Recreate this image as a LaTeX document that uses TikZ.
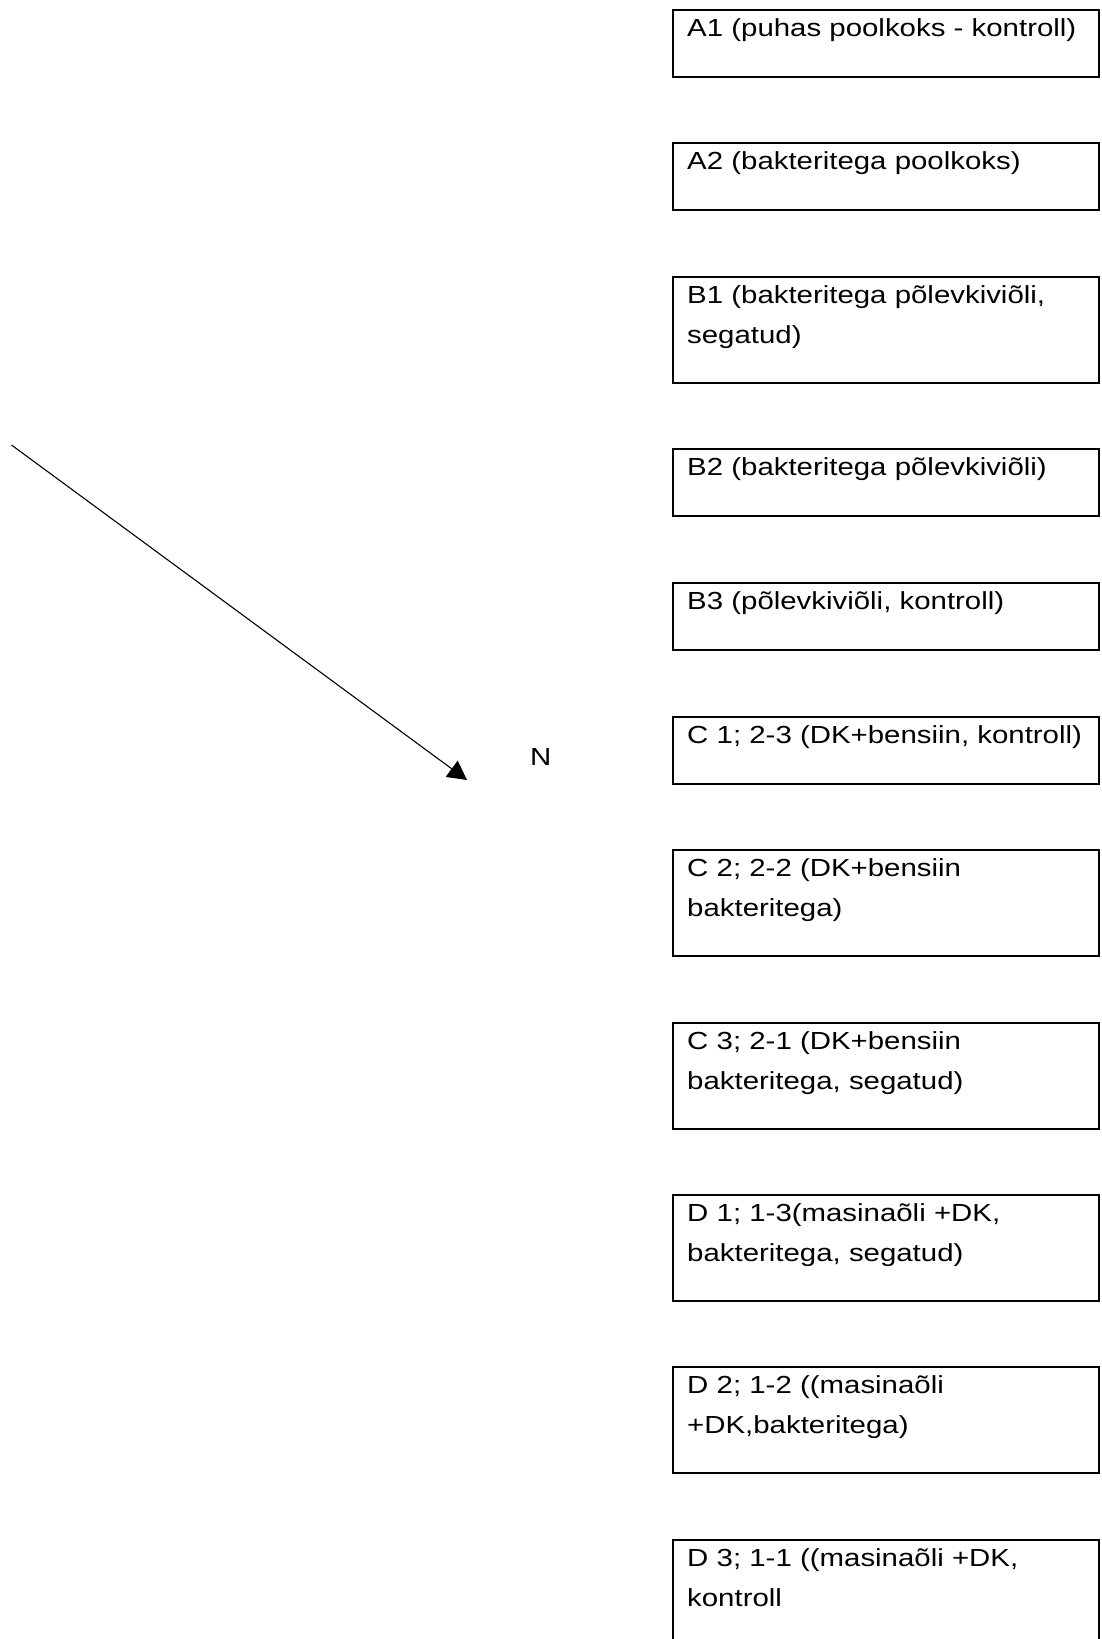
\documentclass[tikz,border=0pt]{standalone}
\usepackage{fontspec}
\setmainfont[FakeStretch=1.19]{Liberation Sans}
\usetikzlibrary{arrows.meta}
\tikzset{
  box/.style={draw, line width=2pt, rectangle, anchor=north west, inner sep=0pt,
              minimum width=426pt},
  onebox/.style={box, minimum height=67pt},
  twobox/.style={box, minimum height=106pt},
  txt/.style={anchor=base west, inner sep=0pt, text width=420pt, align=left,
              font=\fontsize{24.7}{40}\selectfont},
  arr/.style={line width=1.1pt, -{Triangle[length=19pt,width=20pt]}}
}
\begin{document}
\begin{tikzpicture}[x=1pt,y=-1pt]
\useasboundingbox (0,0) rectangle (1101,1639);
\clip (0,0) rectangle (1101,1639);
\fill[white] (0,0) rectangle (1101,1639);

\node[onebox] (A1) at (672,9) {};
\node[onebox] (A2) at (672,142) {};
\node[twobox] (B1) at (672,276) {};
\node[onebox] (B2) at (672,448) {};
\node[onebox] (B3) at (672,582) {};
\node[onebox] (C1) at (672,716) {};
\node[twobox] (C2) at (672,849) {};
\node[twobox] (C3) at (672,1022) {};
\node[twobox] (D1) at (672,1194) {};
\node[twobox] (D2) at (672,1366) {};
\node[twobox] (D3) at (672,1539) {};

\node[txt] (tA1) at ([shift={(15,27.5)}]A1.north west) {A1 (puhas poolkoks - kontroll)};
\node[txt] (tA2) at ([shift={(15,27.5)}]A2.north west) {A2 (bakteritega poolkoks)};
\node[txt] (tB1) at ([shift={(15,27.5)}]B1.north west) {B1 (bakteritega põlevkiviõli,\\segatud)};
\node[txt] (tB2) at ([shift={(15,27.5)}]B2.north west) {B2 (bakteritega põlevkiviõli)};
\node[txt] (tB3) at ([shift={(15,27.5)}]B3.north west) {B3 (põlevkiviõli, kontroll)};
\node[txt] (tC1) at ([shift={(15,27.5)}]C1.north west) {C 1; 2-3 (DK+bensiin, kontroll)};
\node[txt] (tC2) at ([shift={(15,27.5)}]C2.north west) {C 2; 2-2 (DK+bensiin\\bakteritega)};
\node[txt] (tC3) at ([shift={(15,27.5)}]C3.north west) {C 3; 2-1 (DK+bensiin\\bakteritega, segatud)};
\node[txt] (tD1) at ([shift={(15,27.5)}]D1.north west) {D 1; 1-3(masinaõli +DK,\\bakteritega, segatud)};
\node[txt] (tD2) at ([shift={(15,27.5)}]D2.north west) {D 2; 1-2 ((masinaõli\\+DK,bakteritega)};
\node[txt] (tD3) at ([shift={(15,27.5)}]D3.north west) {D 3; 1-1 ((masinaõli +DK,\\kontroll};

\node[anchor=base west, inner sep=0pt, font=\fontsize{24.7}{28}\selectfont] (N) at (530,765) {N};

\coordinate (s) at (11.5,445);
\coordinate (e) at (467,780);
\draw[arr] (s) -- (e);
\end{tikzpicture}
\end{document}
